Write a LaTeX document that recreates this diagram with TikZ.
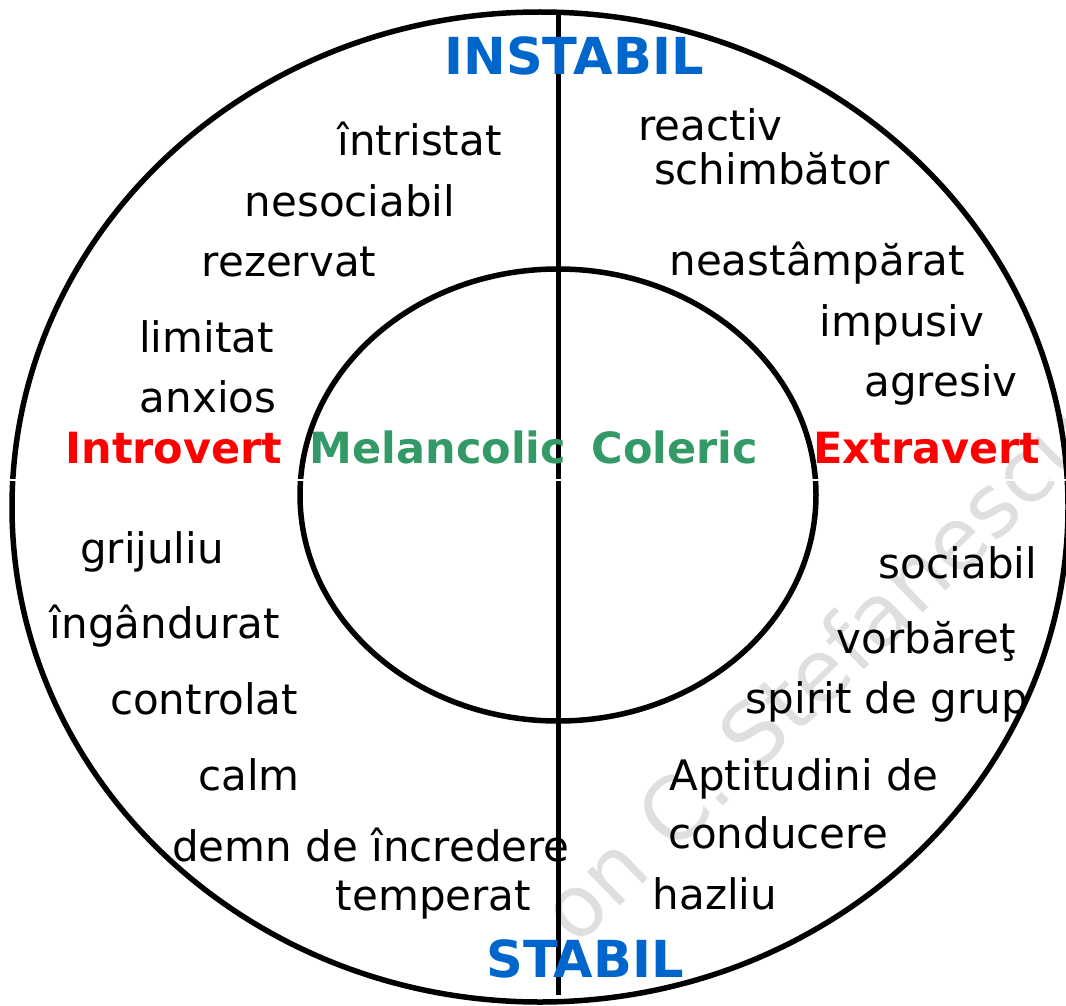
\documentclass[tikz,border=0pt]{standalone}
\usepackage{fontspec}
\setmainfont{DejaVu Sans}
\definecolor{tblue}{HTML}{0066CC}
\definecolor{tred}{HTML}{FF0000}
\definecolor{tgreen}{HTML}{339966}
\tikzset{
  word/.style={inner sep=0pt, anchor=base, font=\fontsize{42}{50}\selectfont, text=black},
  trait/.style={inner sep=0pt, anchor=base, font=\fontsize{43}{50}\selectfont\bfseries},
  axis/.style={inner sep=0pt, anchor=base, font=\fontsize{51}{58}\selectfont\bfseries, text=tblue},
  ring/.style={draw=black, line width=5.5pt},
}
\begin{document}
\begin{tikzpicture}[x=1pt,y=-1pt]
\useasboundingbox (0,0) rectangle (1066,1006);
\clip (0,0) rectangle (1066,1006);
% watermark
\node[inner sep=0pt, rotate=44, text=gray!25, font=\fontsize{86}{90}\selectfont] (wm) at (816,672) {on C. Stefanescu};
% circles and axes
\draw[ring] (540,507) ellipse [x radius=528, y radius=495];
\draw[ring] (558,495) ellipse [x radius=258, y radius=226];
\coordinate (vtop) at (558,12);
\coordinate (vbot) at (558,995);
\draw[line width=5pt] (vtop) -- (vbot);
\coordinate (hl) at (0,480);
\coordinate (hr) at (1066,480);
\draw[white, line width=1.5pt] (hl) -- (hr);
% axis labels
\node[axis] (instabil) at (574,75) {INSTABIL};
\node[axis] (stabil) at (585,977) {STABIL};
\node[trait, text=tred] (introvert) at (174,463) {Introvert};
\node[trait, text=tgreen] (melancolic) at (438,463) {Melancolic};
\node[trait, text=tgreen] (coleric) at (675,463) {Coleric};
\node[trait, text=tred] (extravert) at (927,463) {Extravert};
% upper left
\node[word] (w1) at (419.5,156) {întristat};
\node[word] (w2) at (350,216) {nesociabil};
\node[word] (w3) at (289,276) {rezervat};
\node[word] (w4) at (206.5,352) {limitat};
\node[word] (w5) at (208,412) {anxios};
% upper right
\node[word] (w6) at (710.5,141) {reactiv};
\node[word] (w7) at (772,185) {schimbător};
\node[word] (w8) at (817,275) {neastâmpărat};
\node[word] (w9) at (902,336) {impusiv};
\node[word] (w10) at (941,396) {agresiv};
% lower left
\node[word] (w11) at (152,563) {grijuliu};
\node[word] (w12) at (165,638) {îngândurat};
\node[word] (w13) at (204,714) {controlat};
\node[word] (w14) at (249,790) {calm};
\node[word] (w15) at (371,861) {demn de încredere};
\node[word] (w16) at (433.5,910) {temperat};
% lower right
\node[word] (w17) at (958,578) {sociabil};
\node[word] (w18) at (926,653) {vorbăreţ};
\node[word] (w19) at (887,713) {spirit de grup};
\node[word] (w20) at (804,790) {Aptitudini de};
\node[word] (w21) at (778,848) {conducere};
\node[word] (w22) at (715,909) {hazliu};
\end{tikzpicture}
\end{document}
